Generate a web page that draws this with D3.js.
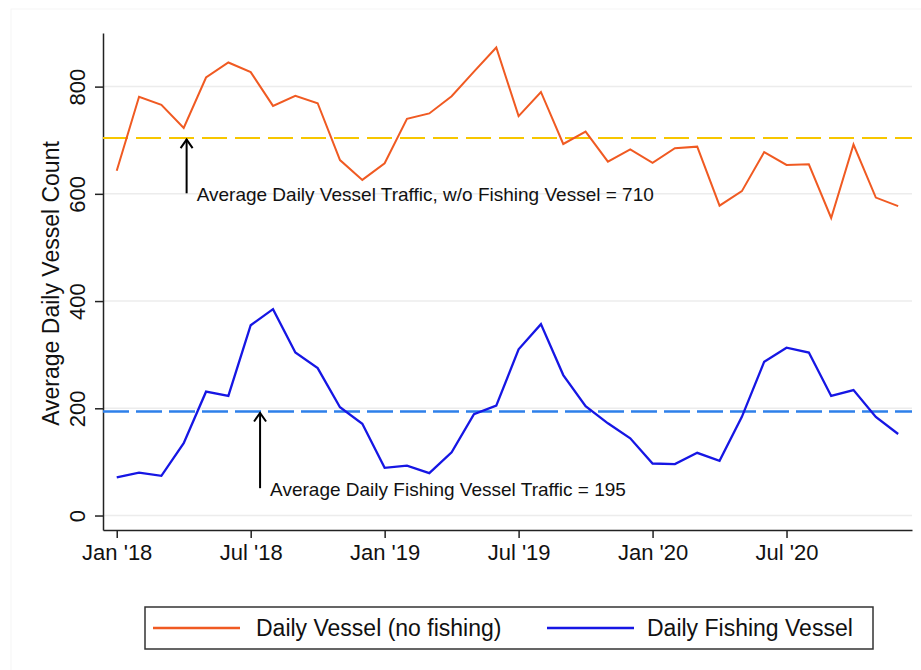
<!DOCTYPE html>
<html>
<head>
<meta charset="utf-8">
<script src="https://cdn.jsdelivr.net/npm/d3@7"></script>
<style>
  body { margin: 0; background: #fff; }
  svg { display: block; font-family: "Liberation Sans", Arial, sans-serif; }
</style>
</head>
<body>
<div id="chart"></div>
<script>
// monthly averages, Jan 2018 .. Dec 2020
const months = d3.range(36);
const noFishing = [643, 781, 766, 723, 817, 845, 827, 764, 783, 769, 663, 626,
                   657, 740, 750, 782, 828, 873, 745, 790, 693, 716, 660, 683,
                   658, 685, 688, 578, 605, 678, 654, 655, 555, 692, 593, 577];
const fishing = [71, 80, 74, 135, 231, 223, 355, 385, 304, 275, 202, 171,
                 89, 93, 79, 118, 189, 205, 310, 357, 262, 204, 172, 144,
                 97, 96, 117, 102, 184, 287, 313, 304, 223, 234, 184, 152];
const xTickMonths = [0, 6, 12, 18, 24, 30];
const xTickLabels = ["Jan '18", "Jul '18", "Jan '19", "Jul '19", "Jan '20", "Jul '20"];
const yTicks = [0, 200, 400, 600, 800];
const avgNoFishing = 704;
const avgFishing = 194;
const seriesNames = ["Daily Vessel (no fishing)", "Daily Fishing Vessel"];

const width = 921, height = 670;
const orange = "#f05a22", blue = "#1616e4";

const svg = d3.select("#chart").append("svg")
  .attr("width", width)
  .attr("height", height);

// faint outer frame
svg.append("rect")
  .attr("x", 11).attr("y", 9)
  .attr("width", 930).attr("height", 680)
  .attr("fill", "none")
  .attr("stroke", "#f5f5f5");

const x = d3.scaleLinear().domain([-0.615, 35.62]).range([103, 912]);
const y = d3.scaleLinear().domain([-27, 900]).range([530, 33]);

// gridlines
svg.append("g")
  .selectAll("line")
  .data(yTicks)
  .join("line")
  .attr("x1", 103).attr("x2", 912)
  .attr("y1", d => y(d)).attr("y2", d => y(d))
  .attr("stroke", "#ececec")
  .attr("stroke-width", 1.5);

// y axis
const yAxis = svg.append("g")
  .attr("transform", "translate(103,0)")
  .call(d3.axisLeft(y).tickValues(yTicks).tickSize(8).tickPadding(0).tickSizeOuter(0));
yAxis.select(".domain").attr("stroke", "#222").attr("stroke-width", 1.5);
yAxis.selectAll(".tick line").attr("stroke", "#222").attr("stroke-width", 1.5);
yAxis.selectAll(".tick text")
  .attr("font-size", 22)
  .attr("fill", "#111")
  .attr("text-anchor", "middle")
  .attr("x", 0).attr("dy", 0)
  .attr("transform", "translate(-18,0) rotate(-90)");

// x axis
const xAxis = svg.append("g")
  .attr("transform", "translate(0,530)")
  .call(d3.axisBottom(x).tickValues(xTickMonths).tickFormat((d, i) => xTickLabels[i])
    .tickSize(8).tickPadding(6).tickSizeOuter(0));
xAxis.select(".domain").attr("stroke", "#222").attr("stroke-width", 1.5);
xAxis.selectAll(".tick line").attr("stroke", "#222").attr("stroke-width", 1.5);
xAxis.selectAll(".tick text").attr("font-size", 22).attr("fill", "#111");

// y title
svg.append("text")
  .attr("transform", `translate(59,${(y(-27) + y(900)) / 2 + 2}) rotate(-90)`)
  .attr("text-anchor", "middle")
  .attr("font-size", 23)
  .attr("fill", "#111")
  .text("Average Daily Vessel Count");

// average lines
svg.append("line")
  .attr("x1", 103).attr("x2", 912)
  .attr("y1", y(avgNoFishing)).attr("y2", y(avgNoFishing))
  .attr("stroke", "#f7c600").attr("stroke-width", 2)
  .attr("stroke-dasharray", "25,8");
svg.append("line")
  .attr("x1", 103).attr("x2", 912)
  .attr("y1", y(avgFishing)).attr("y2", y(avgFishing))
  .attr("stroke", "#2e80ea").attr("stroke-width", 2.5)
  .attr("stroke-dasharray", "26,7");

// series
const line = d3.line().x((d, i) => x(months[i])).y(d => y(d));
svg.append("path").datum(noFishing)
  .attr("fill", "none").attr("stroke", orange).attr("stroke-width", 2)
  .attr("stroke-linejoin", "miter")
  .attr("d", line);
svg.append("path").datum(fishing)
  .attr("fill", "none").attr("stroke", blue).attr("stroke-width", 2.3)
  .attr("stroke-linejoin", "miter")
  .attr("d", line);

// annotations
const notes = [
  { m: 3.13, from: 601, to: avgNoFishing, tx: 3.58, ty: 201, text: "Average Daily Vessel Traffic, w/o Fishing Vessel = 710" },
  { m: 6.42, from: 51, to: avgFishing, tx: 6.87, ty: 496, text: "Average Daily Fishing Vessel Traffic = 195" }
];
const ann = svg.append("g").selectAll("g").data(notes).join("g");
ann.append("line")
  .attr("x1", d => x(d.m)).attr("x2", d => x(d.m))
  .attr("y1", d => y(d.from)).attr("y2", d => y(d.to) + 1)
  .attr("stroke", "#000").attr("stroke-width", 2);
ann.append("path")
  .attr("d", d => `M${x(d.m) - 6},${y(d.to) + 10}L${x(d.m)},${y(d.to) + 1.5}L${x(d.m) + 6},${y(d.to) + 10}`)
  .attr("fill", "none").attr("stroke", "#000").attr("stroke-width", 2);
ann.append("text")
  .attr("x", d => x(d.tx))
  .attr("y", d => d.ty)
  .attr("font-size", 19)
  .attr("fill", "#111")
  .text(d => d.text);

// legend
const legend = svg.append("g");
legend.append("rect")
  .attr("x", 145).attr("y", 607)
  .attr("width", 728).attr("height", 42)
  .attr("fill", "#fff").attr("stroke", "#333").attr("stroke-width", 1.5);
const items = [
  { name: seriesNames[0], color: orange, x0: 153, tx: 256 },
  { name: seriesNames[1], color: blue, x0: 547, tx: 647 }
];
const li = legend.selectAll("g").data(items).join("g");
li.append("line")
  .attr("x1", d => d.x0).attr("x2", d => d.x0 + 87)
  .attr("y1", 628).attr("y2", 628)
  .attr("stroke", d => d.color).attr("stroke-width", 2.3);
li.append("text")
  .attr("x", d => d.tx).attr("y", 636)
  .attr("font-size", 23)
  .attr("fill", "#111")
  .text(d => d.name);
</script>
</body>
</html>
